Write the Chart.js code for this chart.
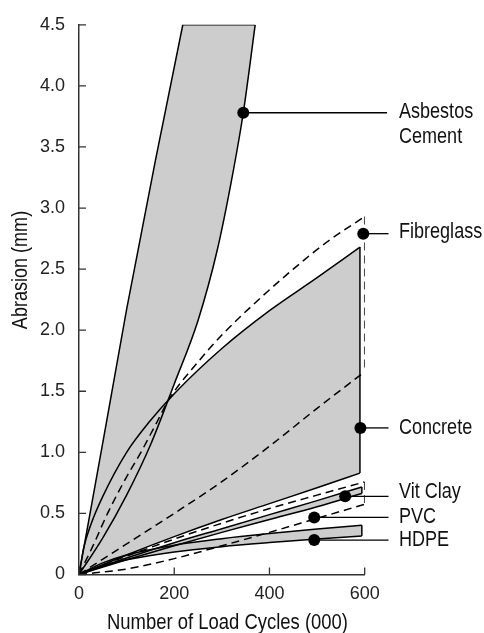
<!DOCTYPE html>
<html>
<head>
<meta charset="utf-8">
<script src="https://cdn.jsdelivr.net/npm/chart.js@4.4.1/dist/chart.umd.min.js"></script>
<style>
  html, body { margin: 0; padding: 0; background: #fff; }
  canvas { display: block; }
</style>
</head>
<body>
<canvas id="chart" width="484" height="633"></canvas>
<script>
// values: [load cycles (000), abrasion (mm)]
const asbestosLeft  = [[0,0],[50,1.08],[100,2.17],[160,3.38],[218,4.5],[370,4.5]];
const asbestosRight = [[0,0],[50,0.3],[100,0.65],[150,1.06],[200,1.56],[250,2.08],[290,2.65],[320,3.22],[345,3.78],[370,4.5]];
const concreteTop    = [[0,0],[10,0.22],[25,0.41],[50,0.64],[100,1.0],[150,1.26],[200,1.48],[300,1.85],[400,2.16],[500,2.43],[590,2.68]];
const concreteBottom = [[0,0],[100,0.16],[200,0.31],[300,0.45],[400,0.58],[500,0.71],[590,0.83]];
const fibreTop    = [[0,0],[30,0.24],[60,0.5],[100,0.8],[130,1.0],[160,1.22],[190,1.44],[250,1.74],[300,1.96],[380,2.26],[450,2.5],[520,2.72],[600,2.93]];
const fibreBottom = [[0,0],[100,0.25],[200,0.5],[300,0.76],[400,1.05],[500,1.36],[600,1.66]];
const pvcTop    = [[0,0],[100,0.15],[200,0.29],[300,0.42],[400,0.54],[500,0.65],[600,0.758]];
const pvcBottom = [[0,0],[100,0.045],[200,0.13],[300,0.235],[400,0.345],[500,0.46],[600,0.575]];
const clayTop    = [[0,0],[100,0.135],[200,0.26],[300,0.375],[400,0.49],[500,0.605],[594,0.717]];
const clayBottom = [[0,0],[100,0.12],[200,0.235],[300,0.345],[400,0.45],[500,0.555],[594,0.663]];
const hdpeTop    = [[0,0],[50,0.095],[100,0.16],[200,0.24],[300,0.293],[400,0.335],[500,0.372],[594,0.404]];
const hdpeBottom = [[0,0],[50,0.07],[100,0.12],[200,0.185],[300,0.228],[400,0.261],[500,0.29],[594,0.315]];

const labelNames = ["Asbestos\nCement", "Fibreglass", "Concrete", "Vit Clay", "PVC", "HDPE"];
const dotX = [345, 597, 591, 559, 494, 494];
const dotY = [3.78, 2.79, 1.2, 0.64, 0.467, 0.282];
const leaderEnd = [647, 650, 650, 650, 650, 650];
const labelY = [3.735, 2.755, 1.154, 0.629, 0.418, 0.23];
const labelX = 672;

const xTicks = [0, 200, 400, 600];
const yTicks = [0, 0.5, 1, 1.5, 2, 2.5, 3, 3.5, 4, 4.5];
const xTitle = "Number of Load Cycles (000)";
const yTitle = "Abrasion (mm)";

const GRAY = "#cdcdcd";
const FONT = '"Liberation Sans", Arial, sans-serif';
const NARROW = 0.82; // squeeze text to look like the condensed face of the original

const pts = a => a.map(([x, y]) => ({ x, y }));
const last = a => a[a.length - 1];

function edge(data, extra) {
  return Object.assign({
    type: "line", data: pts(data), borderColor: "#000", borderWidth: 1.5,
    pointRadius: 0, fill: false, tension: 0
  }, extra);
}
const smooth = { cubicInterpolationMode: "monotone" };
const dashed = { borderDash: [8, 5] };
const band = { fill: "+1", backgroundColor: GRAY };

const datasets = [];
// dots first so they are painted last
datasets.push({
  type: "line", data: dotX.map((x, i) => ({ x, y: dotY[i] })), showLine: false,
  pointRadius: 6, pointBackgroundColor: "#000", pointBorderWidth: 0, clip: false
});
dotX.forEach((x, i) => {
  datasets.push(edge([[x, dotY[i]], [leaderEnd[i], dotY[i]]], { borderWidth: 1.3, clip: false }));
});
// dashed outlines
datasets.push(edge(fibreTop, Object.assign({}, smooth, dashed)));
datasets.push(edge(fibreBottom, Object.assign({}, smooth, dashed)));
datasets.push(edge([last(fibreTop), last(fibreBottom)], dashed));
datasets.push(edge(pvcTop, Object.assign({}, smooth, dashed)));
datasets.push(edge(pvcBottom, Object.assign({}, smooth, dashed)));
datasets.push(edge([last(pvcTop), last(pvcBottom)], dashed));
// grey bands
datasets.push(edge(asbestosLeft, band));
datasets.push(edge(asbestosRight, smooth));
datasets.push(edge(concreteTop, Object.assign({}, smooth, band)));
datasets.push(edge(concreteBottom, smooth));
datasets.push(edge([last(concreteTop), last(concreteBottom)]));
datasets.push(edge(clayTop, Object.assign({}, smooth, band)));
datasets.push(edge(clayBottom, smooth));
datasets.push(edge([last(clayTop), last(clayBottom)]));
datasets.push(edge(hdpeTop, Object.assign({}, smooth, band)));
datasets.push(edge(hdpeBottom, smooth));
datasets.push(edge([last(hdpeTop), last(hdpeBottom)]));

function narrowText(ctx, text, x, y, rot) {
  ctx.save();
  ctx.translate(x, y);
  if (rot) ctx.rotate(rot);
  ctx.scale(NARROW, 1);
  ctx.fillText(text, 0, 0);
  ctx.restore();
}

const overlay = {
  id: "overlay",
  afterDatasetsDraw(chart) {
    const { ctx, scales: { x, y } } = chart;
    ctx.save();
    // inward tick marks
    ctx.strokeStyle = "#333";
    ctx.lineWidth = 1.3;
    ctx.beginPath();
    yTicks.forEach(v => {
      const py = y.getPixelForValue(v);
      ctx.moveTo(x.left, py); ctx.lineTo(x.left + 7, py);
    });
    xTicks.forEach(v => {
      const px = x.getPixelForValue(v);
      ctx.moveTo(px, y.bottom); ctx.lineTo(px, y.bottom - 7);
    });
    ctx.stroke();

    ctx.fillStyle = "#111";
    ctx.font = "22px " + FONT;
    ctx.textAlign = "left";
    ctx.textBaseline = "alphabetic";
    labelNames.forEach((name, i) => {
      name.split("\n").forEach((line, j) => {
        narrowText(ctx, line, x.getPixelForValue(labelX), y.getPixelForValue(labelY[i]) + j * 24.4);
      });
    });

    ctx.textAlign = "center";
    ctx.font = "22.5px " + FONT;
    narrowText(ctx, xTitle, 227.5, 629.3);
    ctx.font = "22px " + FONT;
    narrowText(ctx, yTitle, 27, 270, -Math.PI / 2);
    ctx.restore();
  }
};

new Chart(document.getElementById("chart"), {
  type: "line",
  data: { datasets },
  options: {
    responsive: false,
    animation: false,
    events: [],
    layout: { padding: { left: 0, right: 119.3, top: 24, bottom: 0 } },
    scales: {
      x: {
        type: "linear", min: 0, max: 600,
        afterFit: s => { s.height = 58.5; },
        afterBuildTicks: s => { s.ticks = xTicks.map(v => ({ value: v })); },
        ticks: { padding: 9, maxRotation: 0, color: "#222", font: { family: FONT, size: 18 } },
        grid: { display: false, drawTicks: false, tickLength: 0 },
        border: { display: true, color: "#333", width: 1.5 }
      },
      y: {
        type: "linear", min: 0, max: 4.5,
        afterFit: s => { s.width = 79; },
        afterBuildTicks: s => { s.ticks = yTicks.map(v => ({ value: v })); },
        ticks: {
          padding: 14, color: "#222", font: { family: FONT, size: 18 },
          callback: v => v === 0 ? "0" : v.toFixed(1)
        },
        grid: { display: false, drawTicks: false, tickLength: 0 },
        border: { display: true, color: "#333", width: 1.5 }
      }
    },
    plugins: {
      legend: { display: false },
      tooltip: { enabled: false },
      filler: { drawTime: "beforeDatasetsDraw" }
    }
  },
  plugins: [overlay]
});
</script>
</body>
</html>
